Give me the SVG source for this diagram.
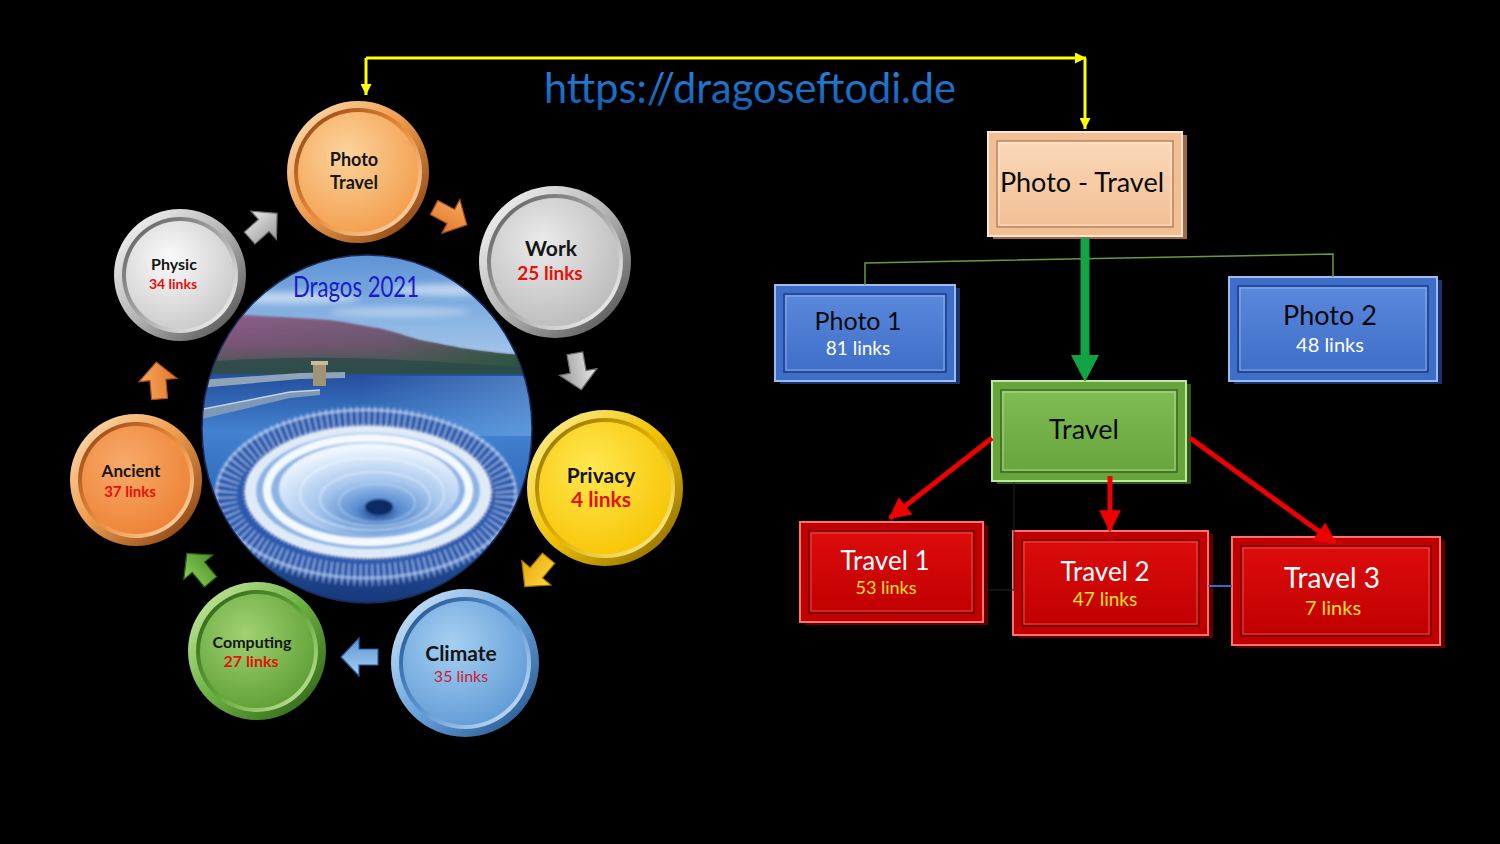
<svg xmlns="http://www.w3.org/2000/svg" width="1500" height="844" viewBox="0 0 1500 844">
<defs>
<style>
.t{font-family:Lato,"Open Sans","Liberation Sans",sans-serif;text-anchor:middle}
.ct{font-weight:700;fill:#151515}
.cl{font-weight:700;fill:#e3120b}
.bk{fill:#0a0a0a}
.wh{fill:#ffffff}
.ye{fill:#ffe020}
</style>
<linearGradient id="ringO" x1="0" y1="0" x2="1" y2="1"><stop offset="0" stop-color="#ffe4c0"/><stop offset=".45" stop-color="#f0a050"/><stop offset="1" stop-color="#7a3408"/></linearGradient>
<linearGradient id="ringOr" x1="1" y1="1" x2="0" y2="0"><stop offset="0" stop-color="#ffe4c0"/><stop offset=".5" stop-color="#e88a3a"/><stop offset="1" stop-color="#8a3c0c"/></linearGradient>
<radialGradient id="faceO" cx=".4" cy=".35" r=".75"><stop offset="0" stop-color="#fcd49c"/><stop offset="1" stop-color="#f29a48"/></radialGradient>
<radialGradient id="faceO2" cx=".4" cy=".35" r=".75"><stop offset="0" stop-color="#f8aa6a"/><stop offset="1" stop-color="#ec8032"/></radialGradient>
<linearGradient id="ringS" x1="0" y1="0" x2="1" y2="1"><stop offset="0" stop-color="#ffffff"/><stop offset=".5" stop-color="#b4b4b4"/><stop offset="1" stop-color="#444444"/></linearGradient>
<linearGradient id="ringSr" x1="1" y1="1" x2="0" y2="0"><stop offset="0" stop-color="#ffffff"/><stop offset=".5" stop-color="#a8a8a8"/><stop offset="1" stop-color="#555555"/></linearGradient>
<radialGradient id="faceS" cx=".4" cy=".35" r=".75"><stop offset="0" stop-color="#fbfbfb"/><stop offset="1" stop-color="#c6c6c6"/></radialGradient>
<radialGradient id="faceS2" cx=".4" cy=".35" r=".75"><stop offset="0" stop-color="#ebebeb"/><stop offset="1" stop-color="#b8b8b8"/></radialGradient>
<linearGradient id="ringY" x1="0" y1="0" x2="1" y2="1"><stop offset="0" stop-color="#fff6a8"/><stop offset=".5" stop-color="#f0c000"/><stop offset="1" stop-color="#7e5e00"/></linearGradient>
<linearGradient id="ringYr" x1="1" y1="1" x2="0" y2="0"><stop offset="0" stop-color="#fff6a8"/><stop offset=".5" stop-color="#e0b000"/><stop offset="1" stop-color="#8a6a00"/></linearGradient>
<radialGradient id="faceY" cx=".4" cy=".35" r=".75"><stop offset="0" stop-color="#ffe850"/><stop offset="1" stop-color="#f6c200"/></radialGradient>
<linearGradient id="ringB" x1="0" y1="0" x2="1" y2="1"><stop offset="0" stop-color="#ddeeff"/><stop offset=".5" stop-color="#6aa4dc"/><stop offset="1" stop-color="#1c4a84"/></linearGradient>
<linearGradient id="ringBr" x1="1" y1="1" x2="0" y2="0"><stop offset="0" stop-color="#ddeeff"/><stop offset=".5" stop-color="#5a94d0"/><stop offset="1" stop-color="#1e4c86"/></linearGradient>
<radialGradient id="faceB" cx=".4" cy=".35" r=".75"><stop offset="0" stop-color="#a6d0f2"/><stop offset="1" stop-color="#5c98d4"/></radialGradient>
<linearGradient id="ringG" x1="0" y1="0" x2="1" y2="1"><stop offset="0" stop-color="#d4f2ac"/><stop offset=".5" stop-color="#6ab040"/><stop offset="1" stop-color="#285812"/></linearGradient>
<linearGradient id="ringGr" x1="1" y1="1" x2="0" y2="0"><stop offset="0" stop-color="#d4f2ac"/><stop offset=".5" stop-color="#5ea236"/><stop offset="1" stop-color="#2a5a14"/></linearGradient>
<radialGradient id="faceG" cx=".4" cy=".35" r=".75"><stop offset="0" stop-color="#a0d272"/><stop offset="1" stop-color="#5a9c32"/></radialGradient>
<linearGradient id="arS" x1="0" y1="0" x2="0" y2="1"><stop offset="0" stop-color="#e8e8e8"/><stop offset="1" stop-color="#9a9a9a"/></linearGradient>
<linearGradient id="arO" x1="0" y1="0" x2="0" y2="1"><stop offset="0" stop-color="#f8a860"/><stop offset="1" stop-color="#e0782a"/></linearGradient>
<linearGradient id="arY" x1="0" y1="0" x2="0" y2="1"><stop offset="0" stop-color="#ffd84a"/><stop offset="1" stop-color="#e6a800"/></linearGradient>
<linearGradient id="arB" x1="0" y1="0" x2="0" y2="1"><stop offset="0" stop-color="#a8d0f4"/><stop offset="1" stop-color="#5a96d2"/></linearGradient>
<linearGradient id="arG" x1="0" y1="0" x2="0" y2="1"><stop offset="0" stop-color="#8ccc5c"/><stop offset="1" stop-color="#4e9028"/></linearGradient>
<path id="barrow" d="M-18,-8 L1,-8 L1,-19 L19,0 L1,19 L1,8 L-18,8 Z"/>
<linearGradient id="pPeach" x1="0" y1="0" x2="0" y2="1"><stop offset="0" stop-color="#fbd8b8"/><stop offset="1" stop-color="#f2bf94"/></linearGradient>
<linearGradient id="pBlue" x1="0" y1="0" x2="0" y2="1"><stop offset="0" stop-color="#5a88dc"/><stop offset="1" stop-color="#3f6ec8"/></linearGradient>
<linearGradient id="pGreen" x1="0" y1="0" x2="0" y2="1"><stop offset="0" stop-color="#80bc54"/><stop offset="1" stop-color="#66a43c"/></linearGradient>
<linearGradient id="pRed" x1="0" y1="0" x2="0" y2="1"><stop offset="0" stop-color="#dc0c0c"/><stop offset="1" stop-color="#c00000"/></linearGradient>
<linearGradient id="urlG" x1="0" y1="0" x2="0" y2="1"><stop offset="0" stop-color="#2a8ae6"/><stop offset="1" stop-color="#0e5cae"/></linearGradient>
<clipPath id="pc"><ellipse cx="367" cy="429" rx="165" ry="174"/></clipPath>
<filter id="soft" x="-5%" y="-5%" width="110%" height="110%"><feGaussianBlur stdDeviation="0.9"/></filter>
<filter id="soft2" x="-20%" y="-20%" width="140%" height="140%"><feGaussianBlur stdDeviation="3"/></filter>
<linearGradient id="sky" x1="0" y1="0" x2="0" y2="1"><stop offset="0" stop-color="#5a90d4"/><stop offset=".5" stop-color="#86b2e2"/><stop offset="1" stop-color="#b4d0ee"/></linearGradient>
<linearGradient id="hill" x1="0" y1="0" x2="0" y2="1"><stop offset="0" stop-color="#8e5e8c"/><stop offset=".5" stop-color="#7a5478"/><stop offset="1" stop-color="#3a5a48"/></linearGradient>
<linearGradient id="hillR" x1="0" y1="0" x2="1" y2="0"><stop offset="0" stop-color="#2a5a3c" stop-opacity="0"/><stop offset=".55" stop-color="#2a5a3c" stop-opacity=".2"/><stop offset="1" stop-color="#24523a" stop-opacity=".9"/></linearGradient>
<linearGradient id="water" x1="0" y1="0" x2="0" y2="1"><stop offset="0" stop-color="#244e9c"/><stop offset=".25" stop-color="#4282d0"/><stop offset=".6" stop-color="#2c62b4"/><stop offset="1" stop-color="#163678"/></linearGradient>
<linearGradient id="waterR" x1="0" y1="0" x2="1" y2="0"><stop offset="0" stop-color="#7ab0e8" stop-opacity=".0"/><stop offset="1" stop-color="#7ab0e8" stop-opacity=".5"/></linearGradient>
<radialGradient id="funnel" cx=".55" cy=".75" r=".7"><stop offset="0" stop-color="#1a3e84"/><stop offset=".18" stop-color="#5a8ed2"/><stop offset=".5" stop-color="#a8c8ee"/><stop offset="1" stop-color="#eef6ff"/></radialGradient>
<marker id="ya" viewBox="0 0 10 10" refX="10" refY="5" markerWidth="13" markerHeight="11" markerUnits="userSpaceOnUse" orient="auto"><path d="M0,0 L10,5 L0,10 Z" fill="#ffff00"/></marker>
<marker id="ra" viewBox="0 0 10 10" refX="9" refY="5" markerWidth="24" markerHeight="22" markerUnits="userSpaceOnUse" orient="auto"><path d="M0,0 L10,5 L0,10 Z" fill="#ee0000"/></marker>
</defs>
<rect width="1500" height="844" fill="#000"/>

<text class="t" x="750" y="103" font-size="42" fill="url(#urlG)" textLength="412" lengthAdjust="spacingAndGlyphs">https://dragoseftodi.de</text>

<g id="center-photo">
<g clip-path="url(#pc)">
<rect x="198" y="250" width="340" height="130" fill="url(#sky)"/>
<g filter="url(#soft2)" opacity=".7">
<ellipse cx="290" cy="298" rx="70" ry="6" fill="#dce8f6"/>
<ellipse cx="450" cy="290" rx="60" ry="6" fill="#dce8f6"/>
<ellipse cx="400" cy="312" rx="70" ry="5" fill="#c4d8f0"/>
</g>
<path d="M198,326 L210,325 C222,318 232,314 240,315 C270,316 300,318 328,320 C350,322 365,327 378,328 C400,333 415,340 430,342 C455,347 470,350 490,352 C505,354 515,355 538,356 L538,375 L198,375 Z" fill="url(#hill)" filter="url(#soft)"/>
<path d="M198,326 L210,325 C222,318 232,314 240,315 C270,316 300,318 328,320 C350,322 365,327 378,328 C400,333 415,340 430,342 C455,347 470,350 490,352 C505,354 515,355 538,356 L538,375 L198,375 Z" fill="url(#hillR)"/>
<path d="M198,362 C260,358 330,356 400,360 C450,362 500,366 538,368 L538,378 L198,378 Z" fill="#2a4a4a" opacity=".8"/>
<rect x="198" y="374" width="340" height="232" fill="url(#water)"/>
<rect x="360" y="376" width="178" height="60" fill="url(#waterR)"/>
<path d="M198,380 L300,373 L345,372 L345,378 L300,379 L198,388 Z" fill="#90a4b8"/>
<path d="M198,410 L290,392 L320,390 L320,395 L290,398 L198,420 Z" fill="#7e98b8"/>
<path d="M198,410 L290,392 L320,390" fill="none" stroke="#c4d4e6" stroke-width="1.5"/>
<rect x="313" y="364" width="13" height="22" fill="#a09474"/>
<rect x="311" y="361" width="17" height="4" fill="#c8bc9c"/>
<g filter="url(#soft)">
<ellipse cx="366" cy="496" rx="152" ry="86" fill="#2a5aae"/>
<ellipse cx="366" cy="496" rx="140" ry="79" fill="none" stroke="#e8f2ff" stroke-width="22" stroke-dasharray="1.5 4.5" opacity=".6"/>
<ellipse cx="366" cy="494" rx="150" ry="84" fill="none" stroke="#dfeeff" stroke-width="3" opacity=".5"/>
<ellipse cx="368" cy="492" rx="123" ry="66" fill="#dfeaf7"/>
<ellipse cx="368" cy="492" rx="123" ry="66" fill="none" stroke="#ffffff" stroke-width="4" stroke-dasharray="1 3" opacity=".8"/>
<ellipse cx="368" cy="491" rx="112" ry="58" fill="#8cb4e4"/>
<ellipse cx="368" cy="490" rx="101" ry="52" fill="none" stroke="#f4f9ff" stroke-width="8"/>
<ellipse cx="369" cy="489" rx="90" ry="46" fill="url(#funnel)"/>
<ellipse cx="372" cy="494" rx="72" ry="36" fill="none" stroke="#ffffff" stroke-width="1.5" opacity=".5"/>
<ellipse cx="375" cy="499" rx="55" ry="27" fill="none" stroke="#ffffff" stroke-width="1.5" opacity=".45"/>
<ellipse cx="377" cy="503" rx="38" ry="19" fill="none" stroke="#ffffff" stroke-width="1.2" opacity=".4"/>
<ellipse cx="379" cy="507" rx="14" ry="8" fill="#0c2a66"/>
</g>
</g>
<ellipse cx="367" cy="429" rx="165" ry="174" fill="none" stroke="#1a2a5a" stroke-width="1.5"/>
<text x="356" y="297" font-family="Lato,'DejaVu Sans',sans-serif" font-weight="400" font-size="28" fill="#1c1cc4" text-anchor="middle" textLength="126" lengthAdjust="spacingAndGlyphs">Dragos 2021</text>
</g>

<g id="node-photo-travel">
<circle cx="358" cy="172" r="71" fill="url(#ringO)"/>
<circle cx="358" cy="172" r="64" fill="url(#ringOr)"/>
<circle cx="358" cy="172" r="60" fill="url(#faceO)"/>
<text class="t ct" x="354" y="166" font-size="18">Photo</text>
<text class="t ct" x="354" y="189" font-size="18">Travel</text>
</g>
<g id="node-work">
<circle cx="555" cy="262" r="76" fill="url(#ringS)"/>
<circle cx="555" cy="262" r="68" fill="url(#ringSr)"/>
<circle cx="555" cy="262" r="64" fill="url(#faceS2)"/>
<text class="t ct" x="551" y="256" font-size="21">Work</text>
<text class="t cl" x="550" y="280" font-size="19">25 links</text>
</g>
<g id="node-privacy">
<circle cx="605" cy="488" r="78" fill="url(#ringY)"/>
<circle cx="605" cy="488" r="70" fill="url(#ringYr)"/>
<circle cx="605" cy="488" r="66" fill="url(#faceY)"/>
<text class="t ct" x="601" y="483" font-size="21">Privacy</text>
<text class="t cl" x="601" y="507" font-size="21">4 links</text>
</g>
<g id="node-climate">
<circle cx="465" cy="663" r="74" fill="url(#ringB)"/>
<circle cx="465" cy="663" r="66" fill="url(#ringBr)"/>
<circle cx="465" cy="663" r="62" fill="url(#faceB)"/>
<text class="t ct" x="461" y="661" font-size="21">Climate</text>
<text class="t" x="461" y="682" font-size="16" fill="#c8203c">35 links</text>
</g>
<g id="node-computing">
<circle cx="257" cy="651" r="69" fill="url(#ringG)"/>
<circle cx="257" cy="651" r="61" fill="url(#ringGr)"/>
<circle cx="257" cy="651" r="57" fill="url(#faceG)"/>
<text class="t ct" x="252" y="648" font-size="16">Computing</text>
<text class="t cl" x="251" y="667" font-size="16">27 links</text>
</g>
<g id="node-ancient">
<circle cx="136" cy="480" r="66" fill="url(#ringO)"/>
<circle cx="136" cy="480" r="58" fill="url(#ringOr)"/>
<circle cx="136" cy="480" r="54" fill="url(#faceO2)"/>
<text class="t ct" x="131" y="477" font-size="17">Ancient</text>
<text class="t cl" x="130" y="497" font-size="15">37 links</text>
</g>
<g id="node-physic">
<circle cx="180" cy="275" r="66" fill="url(#ringS)"/>
<circle cx="180" cy="275" r="58" fill="url(#ringSr)"/>
<circle cx="180" cy="275" r="54" fill="url(#faceS)"/>
<text class="t ct" x="174" y="270" font-size="16">Physic</text>
<text class="t cl" x="173" y="289" font-size="14">34 links</text>
</g>

<g id="node-photo-travel-box">
<rect x="993" y="135" width="194" height="104" fill="#a06a44"/>
<rect x="988" y="132" width="194" height="104" fill="#f2bf94" stroke="#ffe6d0" stroke-width="2"/>
<rect x="997" y="141" width="176" height="86" fill="url(#pPeach)" stroke="#b88660" stroke-width="1.5"/>
<rect x="999" y="143" width="172" height="82" fill="none" stroke="#fff0e0" stroke-width="1" opacity=".7"/>
<text class="t bk" x="1082" y="192" font-size="27">Photo - Travel</text>
</g>
<g id="node-photo1">
<rect x="780" y="288" width="180" height="96" fill="#1a3470"/>
<rect x="775" y="285" width="180" height="96" fill="#3f6ec8" stroke="#9cbcf0" stroke-width="2"/>
<rect x="784" y="294" width="162" height="78" fill="url(#pBlue)" stroke="#1e3c80" stroke-width="1.5"/>
<rect x="786" y="296" width="158" height="74" fill="none" stroke="#a8c4f4" stroke-width="1" opacity=".7"/>
<text class="t bk" x="858" y="330" font-size="25">Photo 1</text>
<text class="t wh" x="858" y="355" font-size="19">81 links</text>
</g>
<g id="node-photo2">
<rect x="1234" y="280" width="208" height="104" fill="#1a3470"/>
<rect x="1229" y="277" width="208" height="104" fill="#3f6ec8" stroke="#9cbcf0" stroke-width="2"/>
<rect x="1238" y="286" width="190" height="86" fill="url(#pBlue)" stroke="#1e3c80" stroke-width="1.5"/>
<rect x="1240" y="288" width="186" height="82" fill="none" stroke="#a8c4f4" stroke-width="1" opacity=".7"/>
<text class="t bk" x="1330" y="325" font-size="27">Photo 2</text>
<text class="t wh" x="1330" y="352" font-size="20">48 links</text>
</g>
<g id="node-travel">
<rect x="997" y="384" width="194" height="100" fill="#2e5a18"/>
<rect x="992" y="381" width="194" height="100" fill="#66a43c" stroke="#c0e8a0" stroke-width="2"/>
<rect x="1001" y="390" width="176" height="82" fill="url(#pGreen)" stroke="#3a6820" stroke-width="1.5"/>
<rect x="1003" y="392" width="172" height="78" fill="none" stroke="#c8ecac" stroke-width="1" opacity=".7"/>
<text class="t bk" x="1084" y="439" font-size="27">Travel</text>
</g>
<g id="node-travel1">
<rect x="805" y="525" width="183" height="100" fill="#600000"/>
<rect x="800" y="522" width="183" height="100" fill="#c00000" stroke="#ff7070" stroke-width="2"/>
<rect x="809" y="531" width="165" height="82" fill="url(#pRed)" stroke="#700000" stroke-width="1.5"/>
<rect x="811" y="533" width="161" height="78" fill="none" stroke="#ff8080" stroke-width="1" opacity=".6"/>
<text class="t wh" x="885" y="570" font-size="26">Travel 1</text>
<text class="t ye" x="886" y="594" font-size="18">53 links</text>
</g>
<g id="node-travel2">
<rect x="1018" y="534" width="195" height="104" fill="#600000"/>
<rect x="1013" y="531" width="195" height="104" fill="#c00000" stroke="#ff7070" stroke-width="2"/>
<rect x="1022" y="540" width="177" height="86" fill="url(#pRed)" stroke="#700000" stroke-width="1.5"/>
<rect x="1024" y="542" width="173" height="82" fill="none" stroke="#ff8080" stroke-width="1" opacity=".6"/>
<text class="t wh" x="1105" y="581" font-size="26">Travel 2</text>
<text class="t ye" x="1105" y="606" font-size="19">47 links</text>
</g>
<g id="node-travel3">
<rect x="1237" y="540" width="208" height="108" fill="#600000"/>
<rect x="1232" y="537" width="208" height="108" fill="#c00000" stroke="#ff7070" stroke-width="2"/>
<rect x="1241" y="546" width="190" height="90" fill="url(#pRed)" stroke="#700000" stroke-width="1.5"/>
<rect x="1243" y="548" width="186" height="86" fill="none" stroke="#ff8080" stroke-width="1" opacity=".6"/>
<text class="t wh" x="1332" y="588" font-size="28">Travel 3</text>
<text class="t ye" x="1333" y="615" font-size="20">7 links</text>
</g>

<g id="connectors">
<use href="#barrow" transform="translate(263,226) rotate(-42)" fill="url(#arS)" stroke="#707070" stroke-width="1.2"/>
<use href="#barrow" transform="translate(450,216) rotate(28)" fill="url(#arO)" stroke="#a85018" stroke-width="1.2"/>
<use href="#barrow" transform="translate(578,371) rotate(80)" fill="url(#arS)" stroke="#707070" stroke-width="1.2"/>
<use href="#barrow" transform="translate(537,572) rotate(130)" fill="url(#arY)" stroke="#a07800" stroke-width="1.2"/>
<use href="#barrow" transform="translate(360,657) rotate(180)" fill="url(#arB)" stroke="#2a5a9a" stroke-width="1.2"/>
<use href="#barrow" transform="translate(199,568) rotate(-130)" fill="url(#arG)" stroke="#2e6012" stroke-width="1.2"/>
<use href="#barrow" transform="translate(158,381) rotate(-95)" fill="url(#arO)" stroke="#a85018" stroke-width="1.2"/>

<path d="M366,58 L366,95" fill="none" stroke="#ffff00" stroke-width="3" marker-end="url(#ya)"/>
<path d="M366,58 L1086,58" fill="none" stroke="#ffff00" stroke-width="3" marker-end="url(#ya)"/>
<path d="M1085,58 L1085,129" fill="none" stroke="#ffff00" stroke-width="3" marker-end="url(#ya)"/>

<path d="M865,285 L865,263 L1333,254 L1333,277" fill="none" stroke="#6a9a40" stroke-width="1.5"/>
<line x1="1085" y1="238" x2="1085" y2="356" stroke="#12a444" stroke-width="9"/>
<path d="M1071,355 L1099,355 L1085,382 Z" fill="#12a444"/>

<path d="M1014,482 L1014,590 L985,590" fill="none" stroke="#222" stroke-width="1"/>
<line x1="1208" y1="586" x2="1232" y2="586" stroke="#3a6ac0" stroke-width="2"/>

<line x1="992" y1="438" x2="890" y2="518" stroke="#ee0000" stroke-width="5" marker-end="url(#ra)"/>
<line x1="1110" y1="476" x2="1110" y2="530" stroke="#ee0000" stroke-width="5" marker-end="url(#ra)"/>
<line x1="1190" y1="438" x2="1335" y2="543" stroke="#ee0000" stroke-width="5" marker-end="url(#ra)"/>
</g>
</svg>
